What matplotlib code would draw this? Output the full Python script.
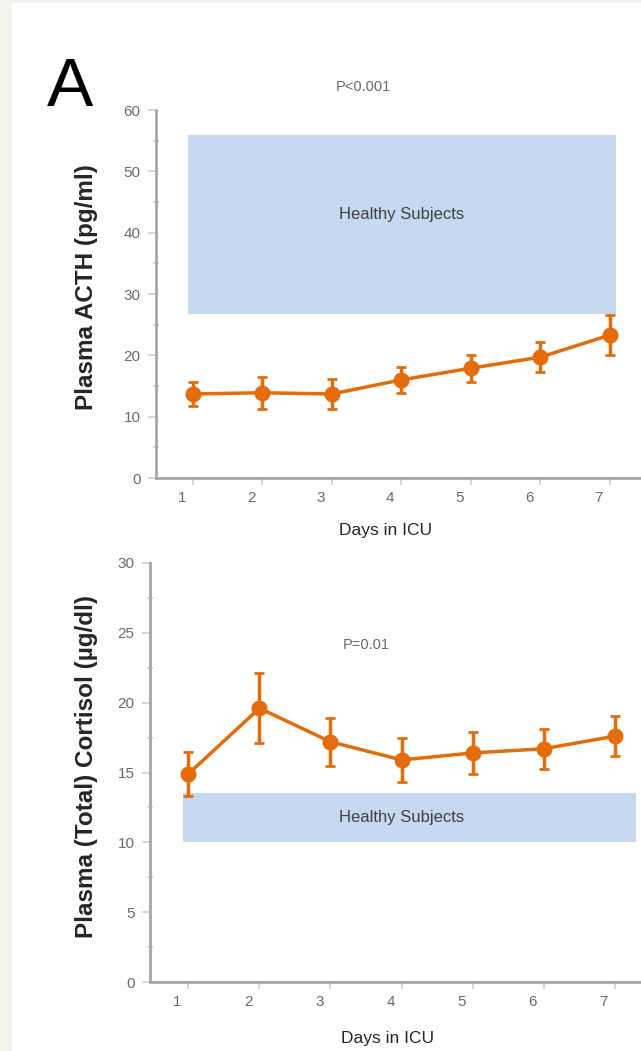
import matplotlib
matplotlib.use("Agg")
import matplotlib.pyplot as plt
from matplotlib.transforms import ScaledTranslation
from matplotlib.patches import Rectangle
from matplotlib.ticker import MultipleLocator

# ---- data ----
days = [1, 2, 3, 4, 5, 6, 7]
day_labels = ["1", "2", "3", "4", "5", "6", "7"]
acth_mean = [13.7, 13.9, 13.7, 16.0, 17.9, 19.7, 23.3]
acth_err = [2.0, 2.6, 2.5, 2.1, 2.2, 2.4, 3.3]
cort_mean = [14.9, 19.6, 17.2, 15.9, 16.4, 16.7, 17.6]
cort_err = [1.6, 2.5, 1.7, 1.6, 1.5, 1.45, 1.45]
acth_healthy = (26.7, 56.0)   # low, high
cort_healthy = (10.0, 13.5)
acth_p = "P<0.001"
cort_p = "P=0.01"

W, H = 641, 1051
DPI = 100
plt.rcParams['font.family'] = ['Liberation Sans', 'DejaVu Sans']
fig = plt.figure(figsize=(W / DPI, H / DPI), dpi=DPI, facecolor="#F2F3EA")
# white panel
fig.patches.append(Rectangle((12 / W, 0), 1, 1 - 3 / H, transform=fig.transFigure,
                             facecolor="white", edgecolor="none", zorder=-5))

ORANGE = "#E46C0A"
BLUE = "#C6D9F0"
AXC = "#A6A6A6"
TXT = "#6A6A6A"


def px_axes(left, top, right, bottom):
    return fig.add_axes([left / W, 1 - bottom / H, (right - left) / W, (bottom - top) / H])


def style(ax, ymax, major, minor, xlim):
    ax.set_facecolor("none")
    for s in ["top", "right"]:
        ax.spines[s].set_visible(False)
    for s in ["left", "bottom"]:
        ax.spines[s].set_color(AXC)
        ax.spines[s].set_linewidth(2)
    ax.set_ylim(0, ymax)
    ax.set_xlim(*xlim)
    ax.yaxis.set_major_locator(MultipleLocator(major))
    ax.yaxis.set_minor_locator(MultipleLocator(minor))
    ax.set_xticks(days)
    ax.set_xticklabels(day_labels)
    ax.tick_params(axis="y", which="major", length=6, width=1.2, color="#D0D0D0",
                   labelsize=11, labelcolor=TXT, pad=5)
    ax.tick_params(axis="y", which="minor", length=4, width=1.2, color="#D0D0D0", direction="inout")
    ax.tick_params(axis="x", which="major", length=5, width=1.2, color="#D0D0D0",
                   labelsize=11, labelcolor=TXT, pad=4)
    off = ScaledTranslation(-11 / DPI, 0, fig.dpi_scale_trans)
    for lab in ax.get_xticklabels():
        lab.set_transform(lab.get_transform() + off)


# ---- top panel: ACTH ----
ax1 = px_axes(156, 110, 641, 478)
style(ax1, 60, 10, 5, (0.47, 7.45))
ax1.add_patch(Rectangle((0.93, acth_healthy[0]), 7.09 - 0.93, acth_healthy[1] - acth_healthy[0],
                        facecolor=BLUE, edgecolor="none", zorder=1))
ax1.errorbar(days, acth_mean, yerr=acth_err, color=ORANGE, lw=2.5, marker="o", ms=10.5,
             elinewidth=2.5, capsize=3.5, capthick=2, zorder=3, clip_on=False)
ax1.text(4.0, 42.9, "Healthy Subjects", ha="center", va="center", fontsize=12,
         color="#404040")
fig.text(363 / W, 1 - 87 / H, acth_p, ha="center", va="center", fontsize=10.5, color=TXT)
fig.text(87 / W, 1 - 287 / H, "Plasma ACTH (pg/ml)", rotation=90, ha="center", va="center",
         fontsize=17.5, fontweight="bold", color="#262626")
fig.text(386 / W, 1 - 531 / H, "Days in ICU", ha="center", va="center", fontsize=12.5,
         color="#262626")
fig.text(70 / W, 1 - 88 / H, "A", ha="center", va="center", fontsize=50, color="black")

# ---- bottom panel: cortisol ----
ax2 = px_axes(150, 563, 641, 982)
style(ax2, 30, 5, 2.5, (0.46, 7.37))
ax2.add_patch(Rectangle((0.93, cort_healthy[0]), 7.30 - 0.93, cort_healthy[1] - cort_healthy[0],
                        facecolor=BLUE, edgecolor="none", zorder=1))
ax2.errorbar(days, cort_mean, yerr=cort_err, color=ORANGE, lw=2.5, marker="o", ms=10.5,
             elinewidth=2.5, capsize=3.5, capthick=2, zorder=3, clip_on=False)
ax2.text(4.0, 11.8, "Healthy Subjects", ha="center", va="center", fontsize=12,
         color="#404040")
fig.text(366 / W, 1 - 645 / H, cort_p, ha="center", va="center", fontsize=10.5, color=TXT)
fig.text(87 / W, 1 - 767 / H, "Plasma (Total) Cortisol (\u00b5g/dl)", rotation=90, ha="center",
         va="center", fontsize=17.5, fontweight="bold", color="#262626")
fig.text(388 / W, 1 - 1038 / H, "Days in ICU", ha="center", va="center", fontsize=12.5,
         color="#262626")

fig.savefig("out.png", dpi=DPI, facecolor=fig.get_facecolor())
